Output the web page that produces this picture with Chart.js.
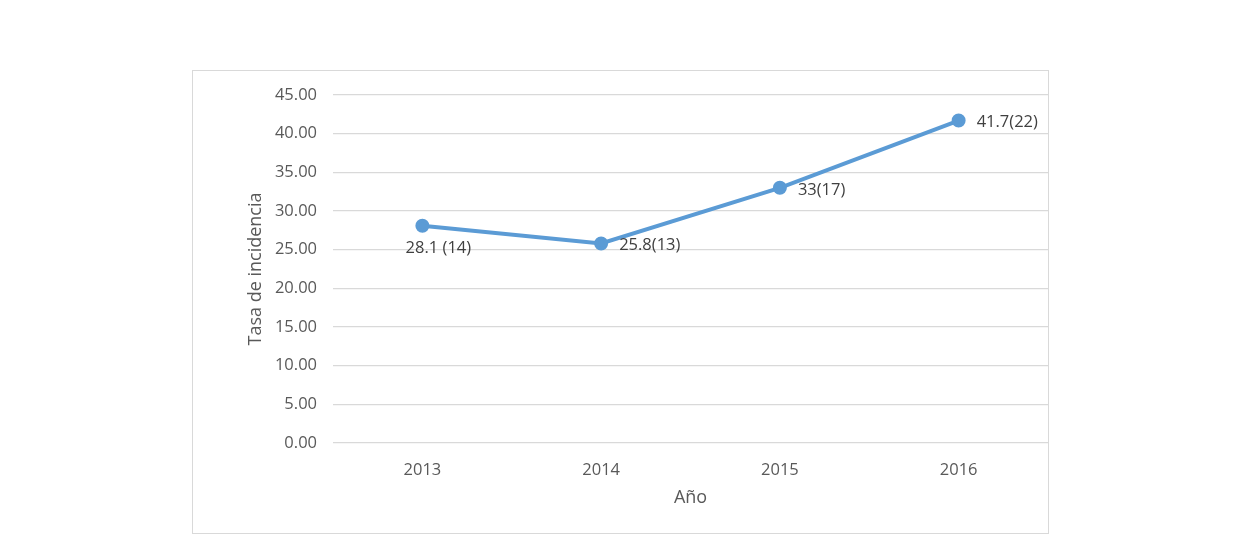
<!DOCTYPE html>
<html lang="es">
<head>
    <meta charset="UTF-8">
    <title>Tasa de incidencia por año</title>
    <script src="https://cdn.jsdelivr.net/npm/chart.js"></script>
    <style>
        body { margin: 0; background: white; }
        #wrap { position: relative; width: 1240px; height: 555px; }
        #frame {
            position: absolute; left: 192px; top: 70px;
            width: 855px; height: 462px;
            border: 1px solid #d9d9d9;
        }
    </style>
</head>
<body>
<div id="wrap">
    <div id="frame"></div>
    <canvas id="incChart" width="1240" height="555"></canvas>
</div>
<script>
    const years = ['2013', '2014', '2015', '2016'];
    const rates = [28.1, 25.8, 33, 41.7];
    const pointLabels = ['28.1 (14)', '25.8(13)', '33(17)', '41.7(22)'];
    const yTicks = { min: 0, max: 45, step: 5 };

    // where each label sits relative to its point
    const labelPlace = ['below', 'right', 'right', 'right'];

    const textColor = '#595959';
    const fontFam = "'Open Sans', 'Noto Sans', sans-serif";

    const labelPlugin = {
        id: 'pointText',
        afterDatasetsDraw(chart) {
            const ctx = chart.ctx;
            const meta = chart.getDatasetMeta(0);
            ctx.save();
            ctx.font = '16.5px ' + fontFam;
            ctx.fillStyle = '#404040';
            ctx.textBaseline = 'middle';
            meta.data.forEach((pt, i) => {
                if (labelPlace[i] === 'below') {
                    ctx.textAlign = 'center';
                    ctx.fillText(pointLabels[i], pt.x + 16, pt.y + 23);
                } else {
                    ctx.textAlign = 'left';
                    ctx.fillText(pointLabels[i], pt.x + 18, pt.y + 2);
                }
            });
            ctx.restore();
        }
    };

    new Chart(document.getElementById('incChart'), {
        type: 'line',
        data: {
            labels: years,
            datasets: [{
                data: rates,
                borderColor: '#5b9bd5',
                backgroundColor: '#5b9bd5',
                borderWidth: 4,
                pointRadius: 5,
                pointHoverRadius: 5,
                tension: 0,
                fill: false
            }]
        },
        options: {
            responsive: false,
            animation: false,
            layout: { padding: { left: 241, top: 95, right: 192, bottom: 42 } },
            plugins: { legend: { display: false }, tooltip: { enabled: false } },
            scales: {
                x: {
                    offset: true,
                    grid: { display: false },
                    border: { display: false },
                    ticks: { color: textColor, font: { size: 16.5, family: fontFam }, padding: 9 },
                    title: {
                        display: true, text: 'Año', color: textColor,
                        font: { size: 18, family: fontFam }, padding: { top: 8 }
                    },
                    afterFit(axis) { axis.height = 70; }
                },
                y: {
                    min: yTicks.min, max: yTicks.max,
                    grid: { color: '#d9d9d9', lineWidth: 1.3, drawTicks: false },
                    border: { display: false },
                    ticks: {
                        stepSize: yTicks.step, color: textColor,
                        font: { size: 16.5, family: fontFam }, padding: 16,
                        callback: v => v.toFixed(2)
                    },
                    title: {
                        display: true, text: 'Tasa de incidencia', color: textColor,
                        font: { size: 18, family: fontFam }, padding: { top: 4, bottom: 0 }
                    },
                    afterFit(axis) { axis.width = 92; }
                }
            }
        },
        plugins: [labelPlugin]
    });
</script>
</body>
</html>
